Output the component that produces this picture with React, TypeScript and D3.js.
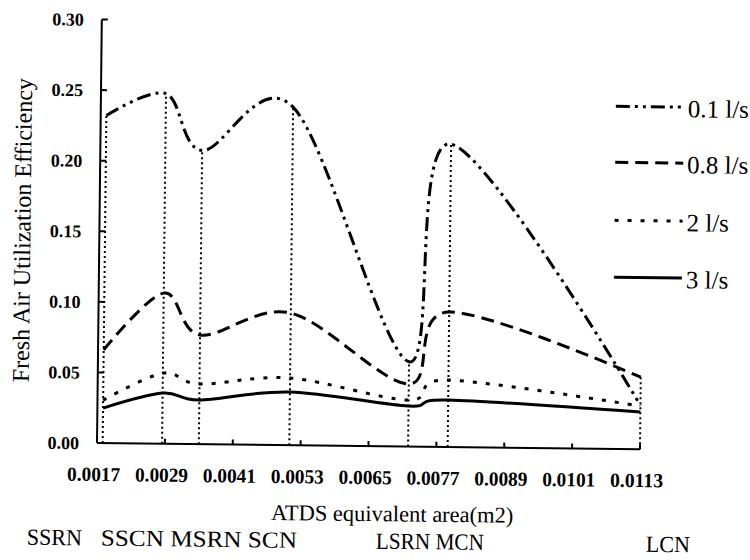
import React from "react";
import * as d3 from "d3";

// ATDS equivalent area (m2) of each nozzle type
const areas = [0.0018, 0.00285, 0.0035, 0.0051, 0.0072, 0.0079, 0.0113];

// Fresh air utilization efficiency per supply flow rate
const eff01 = [0.232, 0.248, 0.208, 0.2395, 0.06, 0.2145, 0.031];
const eff08 = [0.066, 0.1067, 0.0773, 0.0936, 0.0443, 0.0956, 0.051];
const eff2 = [0.0304, 0.05, 0.0426, 0.0476, 0.0329, 0.0474, 0.0305];
const eff3 = [0.0248, 0.0359, 0.0313, 0.0377, 0.0287, 0.0333, 0.0263];

const seriesNames = ["0.1 l/s", "0.8 l/s", "2 l/s", "3 l/s"];

const xTickValues = [0.0017, 0.0029, 0.0041, 0.0053, 0.0065, 0.0077, 0.0089, 0.0101, 0.0113];
const yTickValues = [0, 0.05, 0.1, 0.15, 0.2, 0.25, 0.3];

const groupLabels = ["SSRN", "SSCN MSRN SCN", "LSRN MCN", "LCN"];

// layout
const W = 750;
const H = 560;
const X0 = 97;
const X1 = 640;
const Y0 = 443;
const Y1 = 19.5;
const TILT = 0.65;
const FONT = "'Liberation Serif', 'Times New Roman', Times, serif";

const dashes = ["14,5,3,5,3,5", "13,7", "4,9", null];
const groupLabelX = [28, 102, 377, 647];
const groupLabelLen = [55, 196, 108, 44];
const legendRowY = [100.5, 156.5, 214.5, 271.5];

export default function App() {
  const x = d3.scaleLinear().domain([0.0017, 0.0113]).range([X0, X1]);
  const y = d3.scaleLinear().domain([0, 0.3]).range([Y0, Y1]);

  const allSeries = [eff01, eff08, eff2, eff3];

  const line = d3
    .line<number>()
    .x((_, i) => x(areas[i]))
    .y((d) => y(d))
    .curve(d3.curveCardinal.tension(0));

  // drop lines from the highest series value at each area down to the axis
  const tops = areas.map((_, i) => d3.max(allSeries, (s) => s[i]) as number);

  return (
    <div style={{ position: "absolute", left: 0, top: 0 }}>
      <svg width={W} height={H} style={{ display: "block", background: "#fff" }}>
        <rect width={W} height={H} fill="#fff" />
        <g transform={`rotate(${TILT}, ${X0}, ${Y0})`} fontFamily={FONT} fill="#000">
          {/* drop lines */}
          {areas.map((a, i) => (
            <line
              key={`drop-${i}`}
              x1={x(a)}
              x2={x(a)}
              y1={Y0}
              y2={y(tops[i])}
              stroke="#000"
              strokeWidth={2}
              strokeDasharray="2,3"
            />
          ))}

          {/* series */}
          {allSeries.map((s, k) => (
            <path
              key={`s-${k}`}
              d={line(s) as string}
              fill="none"
              stroke="#000"
              strokeWidth={3}
              strokeDasharray={dashes[k] ?? undefined}
              strokeLinejoin="round"
            />
          ))}

          {/* axes */}
          <line x1={X0} x2={X0} y1={Y0} y2={Y1} stroke="#000" strokeWidth={2} />
          <line x1={X0} x2={X1} y1={Y0} y2={Y0} stroke="#000" strokeWidth={2} />
          {yTickValues.map((v) => (
            <g key={`yt-${v}`}>
              <line x1={X0} x2={X0 + 6} y1={y(v)} y2={y(v)} stroke="#000" strokeWidth={2} />
              <text
                x={79}
                y={y(v)}
                dy="0.35em"
                textAnchor="end"
                fontSize={18}
                fontWeight="bold"
              >
                {v.toFixed(2)}
              </text>
            </g>
          ))}
          {xTickValues.map((v) => (
            <g key={`xt-${v}`}>
              <line x1={x(v)} x2={x(v)} y1={Y0} y2={Y0 - 5} stroke="#000" strokeWidth={2} />
              <text
                x={x(v) - 3}
                y={481}
                textAnchor="middle"
                fontSize={20}
                fontWeight="bold"
                textLength={53}
                lengthAdjust="spacingAndGlyphs"
              >
                {v.toFixed(4)}
              </text>
            </g>
          ))}

          {/* axis titles */}
          <text x={393} y={518} textAnchor="middle" fontSize={22.5}>
            ATDS equivalent area(m2)
          </text>
          <text
            transform={`translate(28, 231) rotate(-90)`}
            textAnchor="middle"
            fontSize={24}
          >
            Fresh Air Utilization Efficiency
          </text>

          {/* nozzle group labels */}
          {groupLabels.map((t, i) => (
            <text
              key={`g-${i}`}
              x={groupLabelX[i]}
              y={545.5}
              fontSize={23}
              textLength={groupLabelLen[i]}
              lengthAdjust="spacingAndGlyphs"
            >
              {t}
            </text>
          ))}

          {/* legend */}
          {seriesNames.map((n, k) => (
            <g key={`lg-${k}`}>
              <line
                x1={612}
                x2={680}
                y1={legendRowY[k]}
                y2={legendRowY[k]}
                stroke="#000"
                strokeWidth={3}
                strokeDasharray={dashes[k] ?? undefined}
              />
              <text x={684} y={legendRowY[k] + 10} fontSize={25}>
                {n}
              </text>
            </g>
          ))}
        </g>
      </svg>
    </div>
  );
}
